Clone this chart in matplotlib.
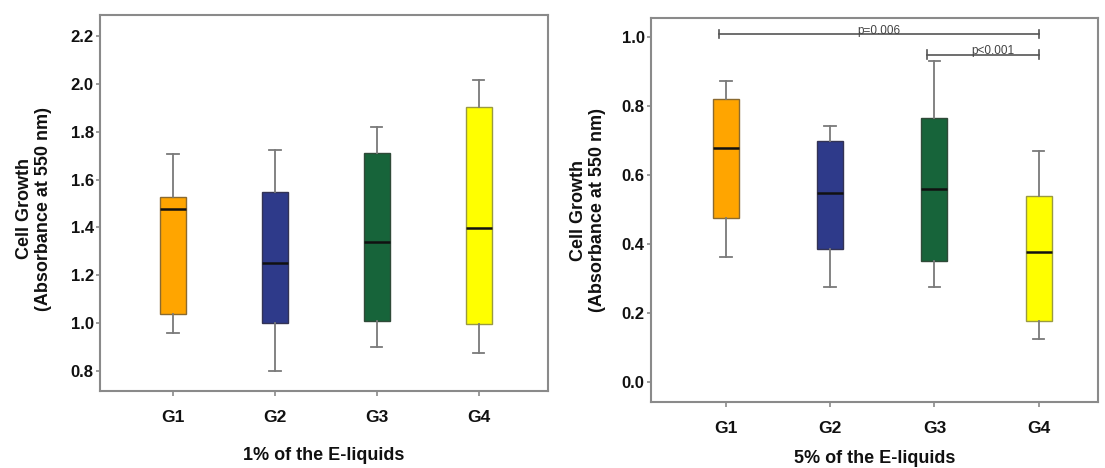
import matplotlib
matplotlib.use("Agg")
import matplotlib.pyplot as plt

plt.rcParams['font.family'] = ['Liberation Sans', 'DejaVu Sans']

groups = ["G1", "G2", "G3", "G4"]
colors = ["#FFA500", "#2E3A8A", "#17643A", "#FFFF00"]
edge_colors = ["#8a6a30", "#333355", "#2f4a38", "#9a9a40"]

# 1% panel: (whisker low, Q1, median, Q3, whisker high)
low_1 = [0.96, 0.80, 0.90, 0.875]
q1_1 = [1.04, 1.00, 1.01, 0.995]
med_1 = [1.476, 1.253, 1.338, 1.397]
q3_1 = [1.527, 1.547, 1.711, 1.905]
high_1 = [1.708, 1.722, 1.818, 2.017]

# 5% panel
low_5 = [0.362, 0.275, 0.275, 0.126]
q1_5 = [0.475, 0.386, 0.350, 0.176]
med_5 = [0.678, 0.548, 0.558, 0.376]
q3_5 = [0.820, 0.698, 0.765, 0.540]
high_5 = [0.871, 0.741, 0.929, 0.669]

yticks_1 = [0.8, 1.0, 1.2, 1.4, 1.6, 1.8, 2.0, 2.2]
yticks_5 = [0.0, 0.2, 0.4, 0.6, 0.8, 1.0]

# significance annotations (group index from, to, height, label)
sig_from = [0, 2]
sig_to = [3, 3]
sig_y = [1.008, 0.949]
sig_text = ["p=0.006", "p<0.001"]

fig = plt.figure(figsize=(11.05, 4.68), dpi=100)
ax1 = fig.add_axes([0.0905, 0.1645, 0.4055, 0.8035])
ax2 = fig.add_axes([0.589, 0.141, 0.4047, 0.8205])

frame_col = "#8a8a8a"


def draw(ax, low, q1, med, q3, high, yticks, ylim, xlim, xlabel,
         ylab_xy, xlab_xy):
    stats = []
    for i in range(len(groups)):
        stats.append(dict(whislo=low[i], q1=q1[i], med=med[i], q3=q3[i],
                          whishi=high[i], fliers=[], label=groups[i]))
    pos = list(range(1, len(groups) + 1))
    b = ax.bxp(stats, positions=pos, widths=0.25, patch_artist=True,
               showfliers=False, capwidths=0.11,
               whiskerprops=dict(color="#7a7a7a", lw=1.3),
               capprops=dict(color="#7a7a7a", lw=1.3),
               medianprops=dict(color="#111111", lw=1.8),
               boxprops=dict(lw=1.0))
    for patch, c, ec in zip(b["boxes"], colors, edge_colors):
        patch.set_facecolor(c)
        patch.set_edgecolor(ec)
    ax.set_ylim(*ylim)
    ax.set_xlim(*xlim)
    ax.set_yticks(yticks)
    ax.set_yticklabels([f"{t:.1f}" for t in yticks], fontweight="bold", fontsize=12)
    ax.set_xticks(pos)
    ax.set_xticklabels(groups, fontweight="bold", fontsize=12.5)
    for s in ax.spines.values():
        s.set_color(frame_col)
        s.set_linewidth(1.5)
    ax.tick_params(axis="both", colors=frame_col, labelcolor="#111111",
                   width=1.2)
    ax.tick_params(axis="y", length=3, pad=1.5)
    ax.tick_params(axis="x", length=3.5, pad=10)
    ax.set_ylabel("Cell Growth\n(Absorbance at 550 nm)", fontweight="bold",
                  fontsize=13, color="#111111", linespacing=1.15)
    ax.yaxis.set_label_coords(*ylab_xy)
    ax.set_xlabel(xlabel, fontweight="bold", fontsize=13, color="#111111")
    ax.xaxis.set_label_coords(*xlab_xy)
    return pos


draw(ax1, low_1, q1_1, med_1, q3_1, high_1, yticks_1, (0.716, 2.288),
     (0.284, 4.68), "1% of the E-liquids", (-0.107, 0.485), (0.5, -0.148))
pos = draw(ax2, low_5, q1_5, med_5, q3_5, high_5, yticks_5, (-0.058, 1.055),
           (0.28, 4.57), "5% of the E-liquids", (-0.101, 0.5), (0.5, -0.126))

text_dx = [0.0, 0.1]
for a, b_, y, t, dx in zip(sig_from, sig_to, sig_y, sig_text, text_dx):
    x0, x1 = pos[a] - 0.07, pos[b_]
    ax2.plot([x0, x1], [y, y], color="#555555", lw=1.2)
    ax2.plot([x0, x0], [y - 0.012, y + 0.012], color="#555555", lw=1.2)
    ax2.plot([x1, x1], [y - 0.012, y + 0.012], color="#555555", lw=1.2)
    ax2.text((x0 + x1) / 2 + dx, y + 0.009, t, ha="center", va="center",
             fontsize=8.5, color="#444444")

fig.savefig("out.png", dpi=100)
